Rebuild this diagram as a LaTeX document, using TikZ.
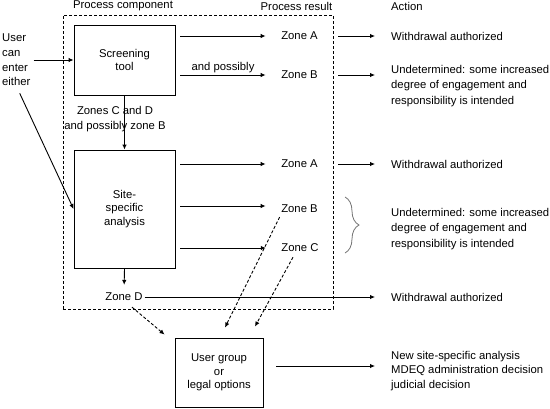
\documentclass[tikz,border=0pt]{standalone}
\usepackage{fontspec}
\setmainfont{Liberation Sans}
\usetikzlibrary{arrows.meta,calc,decorations.pathreplacing}

\begin{document}
\begin{tikzpicture}[x=1pt, y=-1pt,
		every node/.style={inner sep=0pt},
		font=\fontsize{11.3}{15.5}\selectfont,
		box/.style={draw, line width=0.9pt, minimum width=101pt, align=center, font=\fontsize{11.3}{13.3}\selectfont},
		arr/.style={-{Latex[length=5pt,width=4.5pt]}, line width=0.9pt},
		darr/.style={arr, dash pattern=on 3pt off 2pt},
		act/.style={anchor=west, align=left}]
		
		\useasboundingbox (0,0) rectangle (550,408);
		
		% 标题
		\node (hcomp) at (123,6) {Process component};
		\node (hres) at (296.5,6) {Process result};
		\node[anchor=west] (hact) at (391,6) {Action};
		
		% 虚线框
		\node[draw, line width=0.9pt, dash pattern=on 3pt off 2pt, minimum width=270pt, minimum height=294pt] (frame) at (198,162) {};
		
		% 方框
		\node[box, minimum height=70pt] (screen) at (124.5,60) {Screening\\tool};
		\node[box, minimum height=118pt] (site) at (124.5,209) {Site-\\specific\\analysis};
		\node[box, minimum width=88pt, minimum height=69pt] (ugroup) at (219,372.5) {User group\\or\\legal options};
		
		% 用户入口
		\node[anchor=west, align=left, font=\fontsize{11.3}{14.6}\selectfont] (user) at (2,60) {User\\can\\enter\\either};
		\draw[arr] ([xshift=3pt]user.east |- screen) -- (screen.west);
		\draw[arr, shorten <=8pt] (user.south) -- (site.west);
		
		% 区域
		\node (zA1) at (299.5,36) {Zone A};
		\node (zB1) at (299.5,75) {Zone B};
		\node (zA2) at (299.5,164) {Zone A};
		\node (zB2) at (299.5,209) {Zone B};
		\node (zC2) at (300,248) {Zone C};
		\node (zD) at (124,297) {Zone D};
		
		% 行动
		\node[act] (act1) at (391,36) {Withdrawal authorized};
		\node[act] (act2) at (391,86) {Undetermined: some increased\\degree of engagement and\\responsibility is intended};
		\node[act] (act3) at (391,164) {Withdrawal authorized};
		\node[act] (act4) at (391,229) {Undetermined: some increased\\degree of engagement and\\responsibility is intended};
		\node[act] (act5) at (391,297) {Withdrawal authorized};
		\node[act, font=\fontsize{11.3}{14.5}\selectfont] (act6) at (391,371) {New site-specific analysis\\MDEQ administration decision\\judicial decision};
		
		% 筛选工具的结果
		\draw[arr] ([xshift=5pt]screen.east |- zA1) -- ([xshift=-15.5pt]zA1.west);
		\draw[arr] ([xshift=5pt]screen.east |- zB1) -- ([xshift=-15.5pt]zB1.west)
			node[midway, above=2pt] (poss) {and possibly};
		
		% 现场分析的结果
		\foreach \z/\dy in {zA2/0, zB2/3, zC2/0}{
			\draw[arr] ([xshift=5pt, yshift=\dy pt]site.east |- \z) -- ([xshift=-15.5pt, yshift=\dy pt]\z.west);
		}
		
		% 向外的箭头
		\foreach \z/\a in {zA1/act1, zB1/act2, zA2/act3}{
			\draw[arr] ([xshift=5pt]frame.east |- \z) -- ([xshift=-16pt]\a.west |- \z);
		}
		\draw[arr] ([xshift=2pt]zD.east) -- ([xshift=-16pt]act5.west);
		
		% 大括号
		\coordinate (btop) at (345,197);
		\coordinate (bbot) at (345,253);
		\draw[black!55, line width=0.8pt, decorate, decoration={brace, amplitude=14pt}] (btop) -- (bbot);
		
		% 竖直箭头
		\draw[arr] (screen) -- (site);
		\node[align=center, font=\fontsize{11.3}{15}\selectfont] (zlabel) at (115,119.5) {Zones C and D\\and possibly zone B};
		\draw[arr, shorten >=8pt] (site.south) -- (zD.north);
		
		% 虚线箭头
		\draw[darr] ($(zD.south)+(8,6)$) -- ($(ugroup.north west)+(-10,-3)$);
		\draw[darr] ($(zB2.south west)+(-1.5,4)$) -- ($(ugroup.north)+(6,-10)$);
		\draw[darr] ($(zC2.south)+(-7,5)$) -- ($(ugroup.north)+(36,-11)$);
		\draw[arr] ($(ugroup.east)+(13,-6.5)$) -- ($(act6.west)+(-16,-5)$);
	\end{tikzpicture}
\end{document}
